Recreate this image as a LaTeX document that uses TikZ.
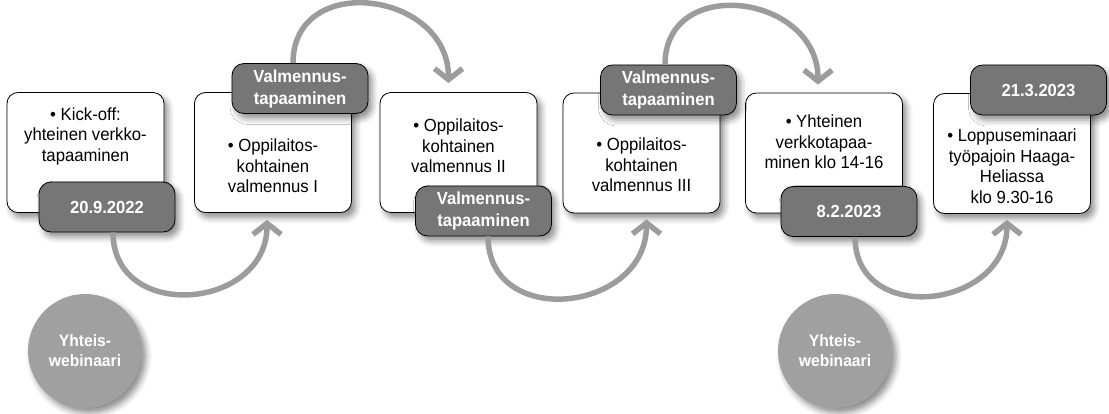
\documentclass[tikz,border=0pt]{standalone}
\usepackage{fontspec}
\setmainfont{Liberation Sans}[FakeStretch=0.95]
\usetikzlibrary{arrows.meta,shadows.blur}
\definecolor{tagfill}{HTML}{767676}
\definecolor{circfill}{HTML}{A0A0A0}
\definecolor{flowgray}{HTML}{9C9C9C}
\begin{document}
\begin{tikzpicture}[x=1pt,y=1pt,
  softshadow/.style={blur shadow={shadow xshift=4pt, shadow yshift=-5pt, shadow blur radius=6pt, shadow opacity=45}},
  card/.style={draw=black, line width=0.8pt, fill=white, rounded corners=11pt,
    minimum width=157pt, minimum height=120pt, inner sep=0pt, softshadow},
  cardtext/.style={align=center, font=\fontsize{17.6}{20.5}\selectfont, inner sep=0pt},
  tag/.style={draw=black, line width=0.8pt, fill=tagfill, rounded corners=12pt,
    minimum width=136pt, minimum height=50pt, inner sep=0pt, softshadow,
    text=white, align=center, font=\fontsize{17.5}{22}\selectfont\bfseries},
  webi/.style={circle, fill=circfill, minimum size=114pt, inner sep=0pt, softshadow,
    text=white, align=center, font=\fontsize{16.5}{20}\selectfont\bfseries},
  flow/.style={draw=flowgray, line width=5.5pt, looseness=1.5,
    -{Straight Barb[length=11pt,width=28pt]}}
]
\useasboundingbox (0,0) rectangle (1109,-414);

% white cards
\node[card] (b1) at (85.5,-152.5) {};
\node[card] (b2) at (273,-152.5) {};
\node[card] (b3) at (458.5,-152.5) {};
\node[card] (b4) at (641.5,-153) {};
\node[card] (b5) at (824,-153) {};
\node[card] (b6) at (1012,-153.5) {};

% card texts
\node[cardtext] (b1t) at (85.5,-136) {• Kick-off:\\yhteinen verkko-\\tapaaminen};
\node[cardtext] (b2t) at (273,-166) {• Oppilaitos-\\kohtainen\\valmennus I};
\node[cardtext] (b3t) at (458.5,-146) {• Oppilaitos-\\kohtainen\\valmennus II};
\node[cardtext] (b4t) at (641.5,-165) {• Oppilaitos-\\kohtainen\\valmennus III};
\node[cardtext] (b5t) at (824,-142) {• Yhteinen\\verkkotapaa-\\minen klo 14-16};
\node[cardtext] (b6t) at (1012,-166) {• Loppuseminaari\\työpajoin Haaga-\\Heliassa\\klo 9.30-16};

% dark tags
\node[tag] (d1) at (107,-207) {20.9.2022};
\node[tag] (t2) at (300,-88.5) {Valmennus-\\tapaaminen};
\node[tag] (t3) at (483.5,-211) {Valmennus-\\tapaaminen};
\node[tag] (t4) at (668.5,-90) {Valmennus-\\tapaaminen};
\node[tag] (d5) at (849,-211.5) {8.2.2023};
\node[tag] (d6) at (1038.5,-90) {21.3.2023};

% circles
\node[webi] (c1) at (85,-351) {Yhteis-\\webinaari};
\node[webi] (c2) at (835,-351) {Yhteis-\\webinaari};

% flow arrows
\draw[flow] ([xshift=6pt]d1.south) to[out=-90,in=-90] ([xshift=-6pt,yshift=-7pt]b2.south);
\draw[flow] ([xshift=-7pt]t2.north) to[out=90,in=90] ([xshift=-10pt,yshift=9pt]b3.north);
\draw[flow] ([xshift=4.5pt]t3.south) to[out=-90,in=-90] ([xshift=5pt,yshift=-6pt]b4.south);
\draw[flow] ([xshift=-3.5pt]t4.north) to[out=90,in=90] ([xshift=-6pt,yshift=8pt]b5.north);
\draw[flow] ([xshift=6pt]d5.south) to[out=-90,in=-90] ([xshift=-5pt,yshift=-6pt]b6.south);
\end{tikzpicture}
\end{document}
